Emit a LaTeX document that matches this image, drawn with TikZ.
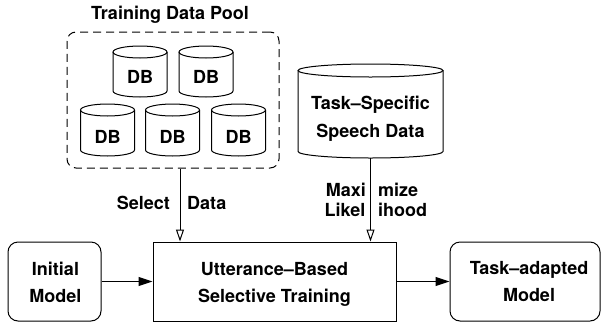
\documentclass[tikz,border=0pt]{standalone}
\usepackage{fontspec}
\setmainfont{TeX Gyre Heros}
\usetikzlibrary{arrows.meta}
\newcommand\mycyl[5]{%
  \draw[ln] (#1-#4,#2) -- (#1-#4,#3) arc[start angle=180,end angle=0,x radius=#4,y radius=#5] -- (#1+#4,#2);
  \draw[ln] (#1,#2) ellipse[x radius=#4,y radius=#5];}
\begin{document}
\begin{tikzpicture}[x=1pt,y=-1pt,
  every node/.style={font=\bfseries\fontsize{18}{26.5}\selectfont, inner sep=0pt},
  ln/.style={line width=1pt},
  rbox/.style={draw, line width=1pt, rounded corners=10pt},
  sbox/.style={draw, line width=1pt},
  lbl/.style={text height=13pt, text depth=0pt},
  fillarrow/.style={line width=1pt, -{Triangle[length=14pt,width=9pt]}},
  openarrow/.style={line width=1pt, -{Triangle[open,length=12pt,width=8pt]}},
]
\useasboundingbox (0,0) rectangle (604,327);
% training data pool
\node[lbl] (title) at (170,13) {Training Data Pool};
\node[draw, dash pattern=on 8pt off 5pt, line width=1pt, rounded corners=9pt,
      minimum width=212pt, minimum height=136pt] (pool) at (173,100) {};
\mycyl{140}{52}{91}{27}{6}
\node[lbl] (db1) at (140,77) {DB};
\mycyl{206}{52}{91}{27}{6}
\node[lbl] (db2) at (206,77) {DB};
\mycyl{107.5}{110}{150}{27}{6}
\node[lbl] (db3) at (107.5,137) {DB};
\mycyl{172.5}{110}{150}{27}{6}
\node[lbl] (db4) at (172.5,137) {DB};
\mycyl{238.5}{110}{150}{27}{6}
\node[lbl] (db5) at (238.5,137) {DB};
% task-specific speech data
\mycyl{370.5}{70.5}{151.5}{72.5}{6.5}
\node[minimum width=145pt, minimum height=94pt] (tsd) at (370.5,111) {};
\node[align=center, font=\bfseries\fontsize{18}{28}\selectfont] (tsdtext) at (370.5,119) {Task\textendash Specific\\Speech Data};
% boxes
\node[rbox, minimum width=93pt, minimum height=79pt] (init) at (54.5,281.5) {};
\node[align=center] (inittext) at (55.5,282.5) {Initial\\Model};
\node[sbox, minimum width=243pt, minimum height=79pt] (main) at (274.5,281.5) {};
\node[align=center] (maintext) at (274.5,284.3) {Utterance\textendash Based\\Selective Training};
\node[rbox, minimum width=150pt, minimum height=79pt] (tad) at (525,281.5) {};
\node[align=center] (tadtext) at (529,281.5) {Task\textendash adapted\\Model};
% connectors
\draw[fillarrow] (init.east) -- (main.west);
\draw[fillarrow] (main.east) -- (tad.west);
\draw[openarrow] ([xshift=7pt]pool.south) -- ([xshift=7pt]pool.south |- main.north);
\draw[openarrow] (tsd.south) -- (tsd.south |- main.north);
% labels
\node[lbl, anchor=east] (sel) at (170,203) {Select};
\node[lbl, anchor=west] (dat) at (187,203) {Data};
\node[lbl, anchor=east] (maxi) at (366,190) {Maxi};
\node[lbl, anchor=west] (mize) at (378,190) {mize};
\node[lbl, anchor=east] (likel) at (365.5,210) {Likel};
\node[lbl, anchor=west] (ihood) at (378,210) {ihood};
\end{tikzpicture}
\end{document}
